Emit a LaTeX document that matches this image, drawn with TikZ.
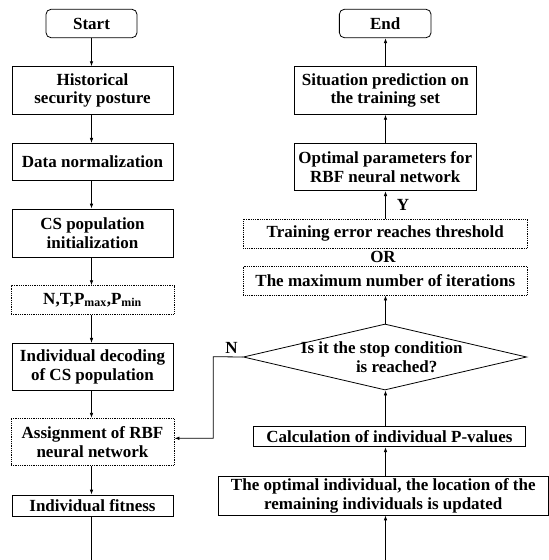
\documentclass[tikz,border=0pt]{standalone}
\usepackage{fontspec}
\setmainfont{Liberation Serif}
\usetikzlibrary{arrows.meta,shapes.geometric,calc}
\begin{document}
\begin{tikzpicture}[x=1pt,y=-1pt,
  every node/.style={font=\fontsize{17}{18.6}\selectfont\bfseries},
  box/.style={draw,line width=0.8pt,rectangle,inner sep=0pt,align=center},
  dotbox/.style={box,dash pattern=on 0.9pt off 0.9pt},
  term/.style={box,rounded corners=5pt},
  dia/.style={draw,line width=0.8pt,diamond,inner sep=0pt,aspect=4.3},
  arr/.style={line width=0.8pt,-{Latex[length=5pt,width=3.6pt]}},
  ln/.style={line width=0.8pt},
  lbl/.style={inner sep=0pt}]
\useasboundingbox (0,0) rectangle (549,560);
% left column
\node[term,minimum width=91pt,minimum height=28.4pt] (start) at (91.5,23.5) {Start};
\node[box,minimum width=161pt,minimum height=47.6pt] (hist) at (92.5,90.5) {Historical\\security posture};
\node[box,minimum width=161pt,minimum height=36.7pt] (norm) at (92.5,161.7) {Data normalization};
\node[box,minimum width=161pt,minimum height=48.3pt] (init) at (92.5,233.2) {CS population\\initialization};
\node[dotbox,minimum width=163pt,minimum height=28.6pt] (par) at (92.5,300) {N,T,P\textsubscript{max},P\textsubscript{min}};
\node[box,minimum width=161pt,minimum height=46.7pt] (dec) at (92.5,366.7) {Individual decoding\\of CS population};
\node[dotbox,minimum width=163pt,minimum height=47.4pt] (asg) at (92.5,442) {Assignment of RBF\\neural network};
\node[box,minimum width=161pt,minimum height=21pt] (fit) at (92.5,505.5) {Individual fitness};
\coordinate (lb) at (92,560);
% right column
\node[term,minimum width=91.7pt,minimum height=28.4pt] (end) at (385.2,23.5) {End};
\node[box,minimum width=182.7pt,minimum height=47.6pt] (sit) at (385.3,90.5) {Situation prediction on\\the training set};
\node[box,minimum width=182.7pt,minimum height=47.4pt] (opt) at (385.3,167) {Optimal parameters for\\RBF neural network};
\node[dotbox,minimum width=284pt,minimum height=29.3pt] (thr) at (385.3,233.7) {Training error reaches threshold};
\node[lbl] (or) at (383,257) {OR};
\node[dotbox,minimum width=284pt,minimum height=29pt] (maxit) at (385.3,280.5) {The maximum number of iterations};
\node[dia,minimum width=283.4pt,minimum height=66pt] (stop) at (385,357) {};
\node[lbl,align=center] (stoptxt) at (381.7,357.5) {Is it the stop condition\\\hspace*{30pt}is reached?};
\node[box,minimum width=272.4pt,minimum height=20pt] (calc) at (389.5,436.7) {Calculation of individual P-values};
\node[box,minimum width=330pt,minimum height=38.3pt] (upd) at (383.3,495.8) {The optimal individual, the location of the\\remaining individuals is updated};
\coordinate (rb) at (385.5,560);
\coordinate (nc) at (213.3,356.7);
\coordinate (nd) at (213.3,438.3);
\node[lbl] (ny) at (403,205) {Y};
\node[lbl] (nn) at (231.5,347.5) {N};
% left arrows
\draw[arr] (start.south) -- (start.south |- hist.north);
\draw[arr] (hist.south -| start.south) -- (start.south |- norm.north);
\draw[arr] (norm.south -| start.south) -- (start.south |- init.north);
\draw[arr] (init.south -| start.south) -- (start.south |- par.north);
\draw[arr] (par.south -| start.south) -- (start.south |- dec.north);
\draw[arr] (dec.south -| start.south) -- (start.south |- asg.north);
\draw[arr] (asg.south -| start.south) -- (start.south |- fit.north);
\draw[ln] (fit.south -| start.south) -- (start.south |- lb);
% right arrows
\draw[arr] (rb) -- (rb |- upd.south);
\draw[arr] (upd.north -| rb) -- (rb |- calc.south);
\draw[arr] (calc.north -| rb) -- (rb |- stop.south);
\draw[arr] (stop.north -| rb) -- (rb |- maxit.south);
\draw[arr] (thr.north -| rb) -- (rb |- opt.south);
\draw[arr] (opt.north -| rb) -- (rb |- sit.south);
\draw[arr] (sit.north -| rb) -- (rb |- end.south);
% N loop
\draw[arr] (stop.west) -- (nc) -- (nd) -- (nd -| asg.east);
\end{tikzpicture}
\end{document}
